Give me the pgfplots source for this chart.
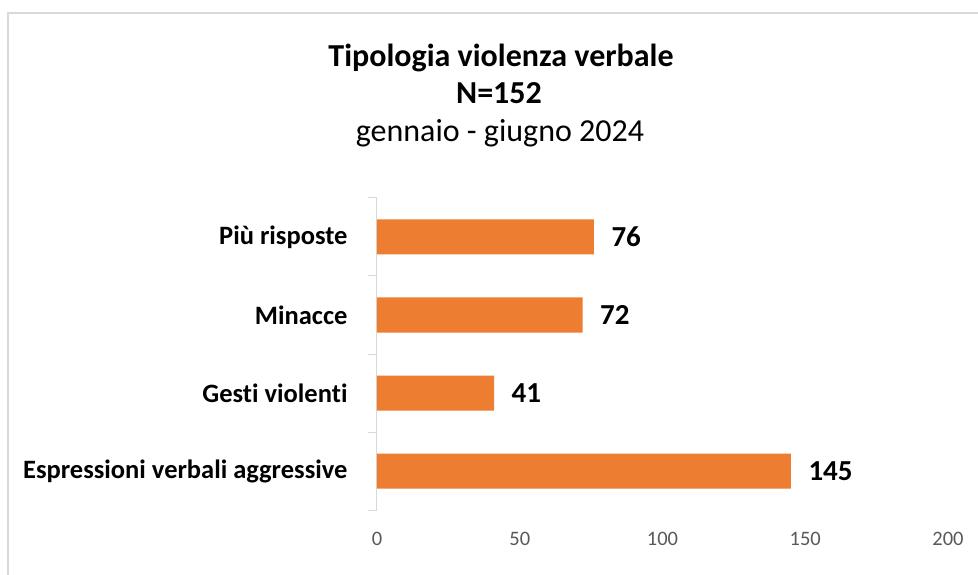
\documentclass[border=0pt]{standalone}
\usepackage{pgfplots}
\pgfplotsset{compat=1.18}
\usepackage{fontspec}
\setmainfont{Carlito}[Ligatures=NoCommon]
\definecolor{barorange}{HTML}{ED7D31}
\definecolor{axgray}{HTML}{D9D9D9}
\definecolor{ticktxt}{HTML}{595959}
\definecolor{border}{HTML}{D9D9D9}
\begin{document}
\begin{tikzpicture}[x=1pt,y=1pt]
\useasboundingbox (0,0) rectangle (978,574);
\fill[white] (0,0) rectangle (978,574);
\draw[border,line width=1.5pt] (8,-10) -- (8,561) -- (990,561);
\node[anchor=base,font=\bfseries\fontsize{32}{36}\selectfont] at (501,507) {Tipologia violenza verbale};
\node[anchor=base,font=\bfseries\fontsize{32}{36}\selectfont] at (499,470) {N=152};
\node[anchor=base,font=\fontsize{32}{36}\selectfont] at (500,432) {gennaio - giugno 2024};
\begin{axis}[
  at={(377pt,64pt)}, anchor=south west,
  scale only axis, width=571pt, height=312pt,
  xbar, bar width=35pt,
  xmin=0, xmax=200, ymin=-0.5, ymax=3.5,
  /pgf/number format/assume math mode=true,
  axis lines=left, axis line style={-},
  x axis line style={draw=none},
  y axis line style={axgray, line width=1pt},
  xtick={0,50,100,150,200},
  xticklabels={0,50,100,150,200},
  xtick style={draw=none},
  xticklabel style={font=\fontsize{20.5}{24}\selectfont, text=ticktxt, yshift=-19pt},
  ytick={0,1,2,3},
  yticklabels={Espressioni verbali aggressive,Gesti violenti,Minacce,Più risposte},
  minor ytick={-0.5,0.5,1.5,2.5,3.5},
  major tick length=0pt, minor tick length=9pt, tick align=outside,
  ytick style={axgray, line width=1pt},
  yticklabel style={font=\bfseries\fontsize{26.5}{30}\selectfont, text=black, xshift=-26pt},
  nodes near coords,
  nodes near coords style={font=\bfseries\fontsize{29}{32}\selectfont, text=black, anchor=west, xshift=14pt},
  clip=false,
]
\addplot[fill=barorange, draw=none] coordinates {(145,0) (41,1) (72,2) (76,3)};
\end{axis}
\end{tikzpicture}
\end{document}
